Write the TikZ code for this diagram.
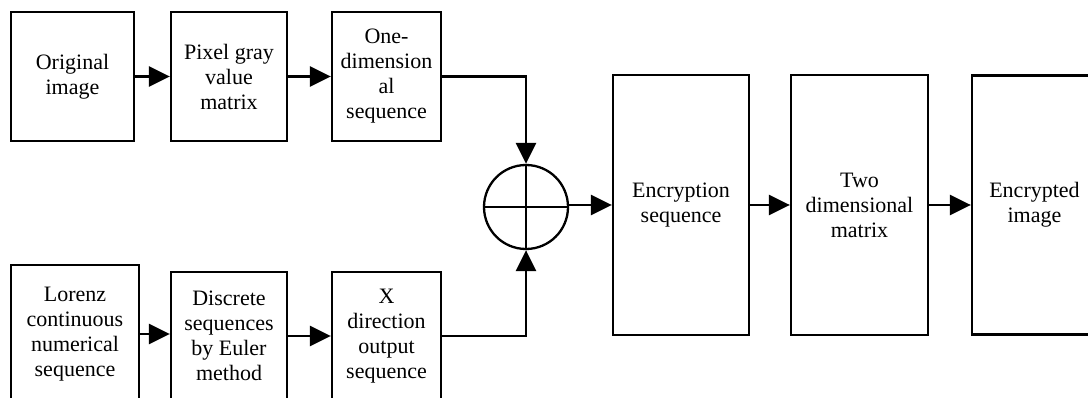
\documentclass[tikz,border=0pt]{standalone}
\usepackage{fontspec}
\setmainfont{Liberation Serif}
\usetikzlibrary{arrows.meta,calc}
\begin{document}
\begin{tikzpicture}[x=1pt,y=-1pt,
  every node/.style={font=\fontsize{22}{25}\selectfont, text=black, inner sep=0pt},
  blk/.style={draw=black, line width=2.3pt, rectangle, align=center},
  xorc/.style={draw=black, line width=2.3pt, circle, minimum size=84pt},
  flow/.style={line width=2.6pt, -{Triangle[length=21pt,width=20pt]}}]
  \useasboundingbox (0,0) rectangle (1088,398);
  \clip (0,0) rectangle (1088,398);
  \fill[white] (0,0) rectangle (1088,398);

  % upper chain: image to 1-D sequence
  \node[blk, minimum width=123pt, minimum height=129pt] (orig) at (72.5,76.5) {Original\\image};
  \node[blk, minimum width=116pt, minimum height=129pt] (pix) at (229,76.5) {Pixel gray\\value\\matrix};
  \node[blk, minimum width=109pt, minimum height=129pt] (oned) at (386.5,76.5) {One-\\dimension\\al\\sequence};

  % lower chain: chaotic key stream
  \node[blk, minimum width=128pt, minimum height=138pt] (lor) at (75,334) {Lorenz\\continuous\\numerical\\sequence};
  \node[blk, minimum width=116pt, minimum height=128pt] (euler) at (229,336) {Discrete\\sequences\\by Euler\\method};
  \node[blk, minimum width=109pt, minimum height=128pt] (xdir) at (386.5,336) {X\\direction\\output\\sequence};

  % XOR operator
  \node[xorc] (xor) at (526,207) {};
  \draw[line width=2.3pt] (xor.north) -- (xor.south) (xor.west) -- (xor.east);

  % output chain
  \node[blk, minimum width=136pt, minimum height=260pt] (enc) at (681,205) {Encryption\\sequence};
  \node[blk, minimum width=137pt, minimum height=260pt] (two) at (859.5,205) {Two\\dimensional\\matrix};
  \node[blk, minimum width=125pt, minimum height=259pt] (out) at (1034.5,205) {Encrypted\\image};

  % connectors
  \draw[flow] (orig.east) -- (pix.west);
  \draw[flow] (pix.east) -- (oned.west);
  \draw[flow] (oned.east) -| (xor.north);
  \draw[flow] (lor.east) -- (lor.east -| euler.west);
  \draw[flow] (euler.east) -- (xdir.west);
  \draw[flow] (xdir.east) -| (xor.south);
  \draw[flow] (xor.east |- enc.west) -- (enc.west);
  \draw[flow] (enc.east) -- (two.west);
  \draw[flow] (two.east) -- (out.west);
\end{tikzpicture}
\end{document}
